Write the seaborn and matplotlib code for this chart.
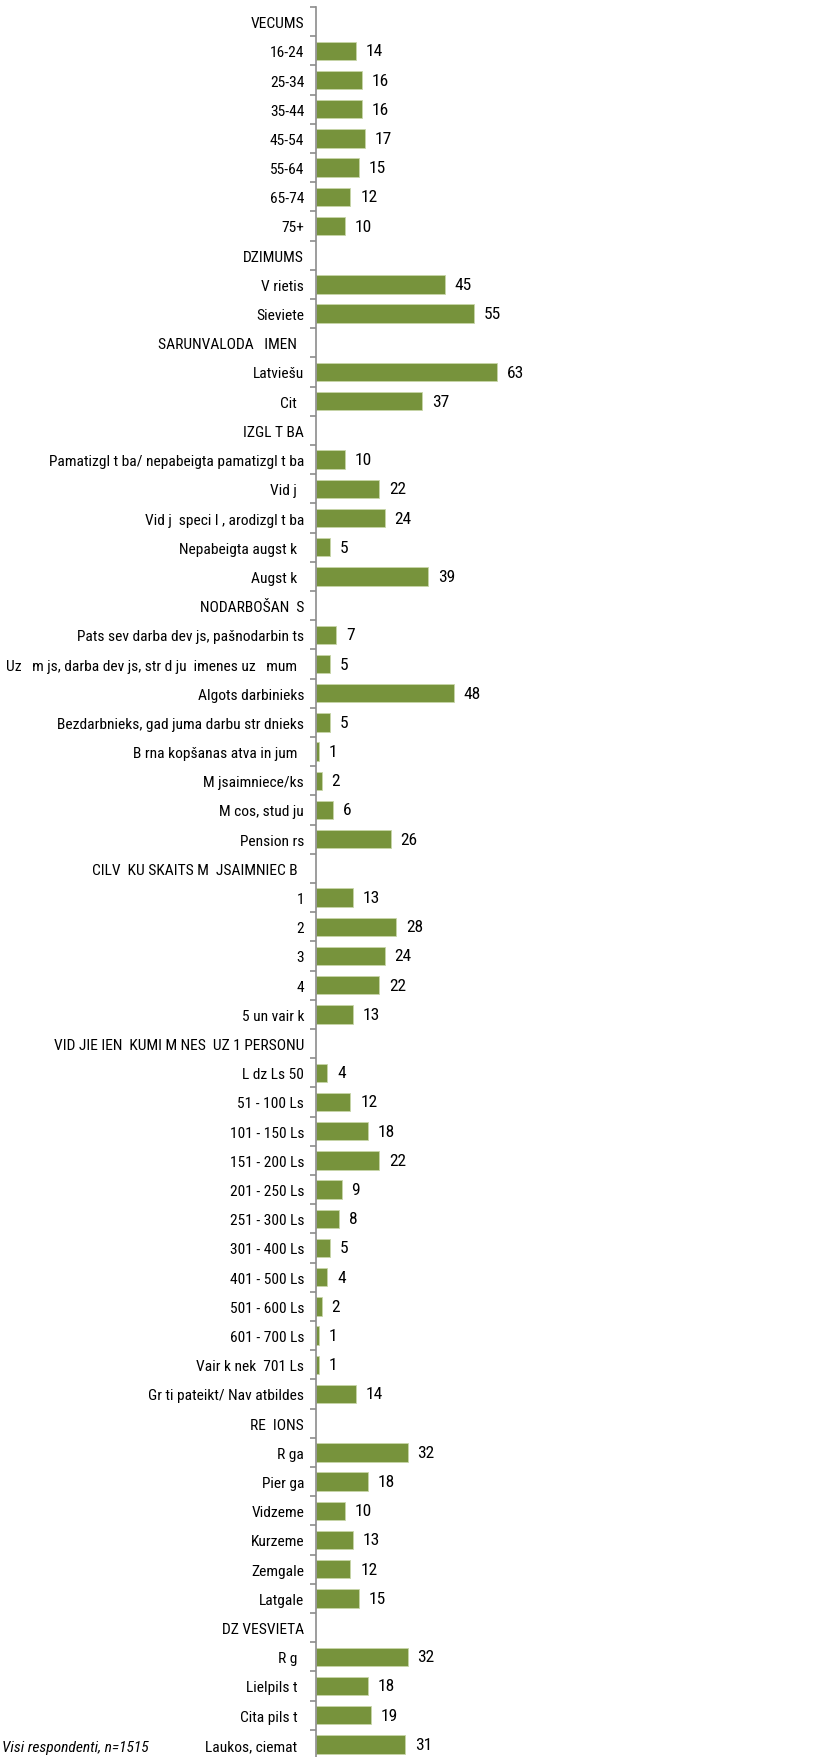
import matplotlib
matplotlib.use("Agg")
import matplotlib.pyplot as plt
import seaborn as sns
import numpy as np
import pandas as pd

sns.set_style("white")
# narrow face first, plain sans faces as fall-back
plt.rcParams['font.family'] = ['Roboto Condensed', 'Archivo Narrow', 'PT Sans Narrow',
                               'Liberation Sans', 'DejaVu Sans']

# category labels as they appear in the chart (missing glyphs kept as blanks)
labels = [
    "VECUMS", "16-24", "25-34", "35-44", "45-54", "55-64", "65-74", "75+",
    "DZIMUMS", "V rietis", "Sieviete",
    "SARUNVALODA   IMEN  ", "Latviešu", "Cit  ",
    "IZGL T BA", "Pamatizgl t ba/ nepabeigta pamatizgl t ba", "Vid j  ",
    "Vid j  speci l , arodizgl t ba", "Nepabeigta augst k  ", "Augst k  ",
    "NODARBOŠAN  S", "Pats sev darba dev js, pašnodarbin ts",
    "Uz   m js, darba dev js, str d ju  imenes uz   mum  ",
    "Algots darbinieks", "Bezdarbnieks, gad juma darbu str dnieks",
    "B rna kopšanas atva in jum  ", "M jsaimniece/ks", "M cos, stud ju",
    "Pension rs",
    "CILV  KU SKAITS M  JSAIMNIEC B  ", "1", "2", "3", "4", "5 un vair k",
    "VID JIE IEN  KUMI M NES  UZ 1 PERSONU", "L dz Ls 50", "51 - 100 Ls",
    "101 - 150 Ls", "151 - 200 Ls", "201 - 250 Ls", "251 - 300 Ls",
    "301 - 400 Ls", "401 - 500 Ls", "501 - 600 Ls", "601 - 700 Ls",
    "Vair k nek  701 Ls", "Gr ti pateikt/ Nav atbildes",
    "RE  IONS", "R ga", "Pier ga", "Vidzeme", "Kurzeme", "Zemgale", "Latgale",
    "DZ VESVIETA", "R g  ", "Lielpils t  ", "Cita pils t  ", "Laukos, ciemat  ",
]

# percentages (None = section header row)
values = [
    None, 14, 16, 16, 17, 15, 12, 10,
    None, 45, 55,
    None, 63, 37,
    None, 10, 22, 24, 5, 39,
    None, 7, 5, 48, 5, 1, 2, 6, 26,
    None, 13, 28, 24, 22, 13,
    None, 4, 12, 18, 22, 9, 8, 5, 4, 2, 1, 1, 14,
    None, 32, 18, 10, 13, 12, 15,
    None, 32, 18, 19, 31,
]

note = "Visi respondenti, n=1515"

df = pd.DataFrame({"label": labels, "value": np.array(values, dtype=float)})

W, H = 834, 1758
fig = plt.figure(figsize=(W / 100, H / 100), dpi=100)
ax = fig.add_axes([316 / W, -2 / H, 1 - 316 / W, 1752 / H])

sns.barplot(data=df, x="value", y="label", order=labels, orient="h",
            color="#77933C", width=0.63, errorbar=None, saturation=1,
            edgecolor="#c8d6a8", linewidth=0.6, ax=ax)

ax.set_xlim(0, 180.5)
ax.set_ylim(len(labels) - 0.5, -0.5)
ax.set_xlabel("")
ax.set_ylabel("")
ax.xaxis.set_visible(False)
for s in ["top", "right", "bottom"]:
    ax.spines[s].set_visible(False)
ax.spines["left"].set_color("#8c8c8c")
ax.spines["left"].set_linewidth(1.2)

ax.set_yticks(np.arange(len(labels)))
ax.set_yticklabels(labels, fontsize=13, color="black")
ax.set_yticks(np.arange(len(labels) + 1) - 0.5, minor=True)
ax.tick_params(axis="y", which="major", length=0, pad=8.5)
ax.tick_params(axis="y", which="minor", length=4, width=1.2, color="#8c8c8c", left=True)

# shrink the font until the longest label fits left of the axis
fig.canvas.draw()
r = fig.canvas.get_renderer()
widest = max(t.get_window_extent(r).width for t in ax.get_yticklabels())
fs = min(14, 13 * 298 / widest)
for t in ax.get_yticklabels():
    t.set_fontsize(fs)

for i, v in enumerate(df["value"]):
    if not np.isnan(v):
        ax.annotate(f"{int(v)}", (v, i), xytext=(7, 0), textcoords="offset points",
                    va="center", ha="left", fontsize=max(fs, 12.5), color="black")

fig.text(2 / W, 1 - 1748 / H, note, ha="left", va="center",
         fontsize=fs, style="italic", color="black")

fig.savefig("out.png", dpi=100)
